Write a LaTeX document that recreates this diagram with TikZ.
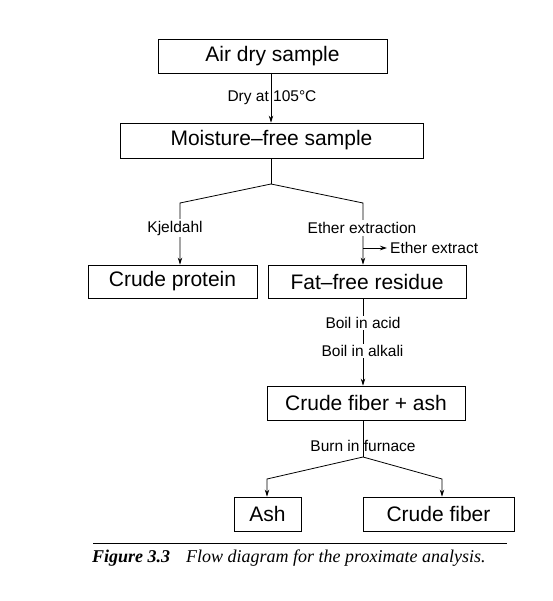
\documentclass[tikz,border=0pt]{standalone}
\usepackage{fontspec}
\setmainfont{Liberation Sans}
\newfontfamily\capfont{Liberation Serif}
\usetikzlibrary{arrows.meta}
\begin{document}
\begin{tikzpicture}[x=1pt,y=-1pt,
  box/.style={draw,line width=0.8pt,inner sep=0pt,font=\fontsize{21}{25}\selectfont},
  lbl/.style={inner sep=1pt,font=\fontsize{15.5}{18}\selectfont},
  lblw/.style={lbl,fill=white,inner sep=2pt},
  conn/.style={line width=0.8pt},
  arr/.style={conn,-{Stealth[length=7pt,width=4.5pt]}}]
\useasboundingbox (0,0) rectangle (552,601);
% boxes
\node[box,minimum width=229pt,minimum height=34pt] (air) at (272.5,56) {Air dry sample};
\node[box,minimum width=303pt,minimum height=35pt] (mf) at (271.5,140.5) {Moisture--free sample};
\node[box,minimum width=169pt,minimum height=33pt] (cp) at (172.5,281.5) {Crude protein};
\node[box,minimum width=198pt,minimum height=33pt] (ff) at (367,281.5) {Fat--free residue};
\node[box,minimum width=198pt,minimum height=34pt] (cfa) at (366,403) {Crude fiber + ash};
\node[box,minimum width=67pt,minimum height=34pt] (ash) at (267.5,514) {Ash};
\node[box,minimum width=151pt,minimum height=34pt] (cf) at (438.5,514) {Crude fiber};
% coordinates
\coordinate (a1) at (271,73);
\coordinate (j1) at (271,184);
\coordinate (l1) at (180,203);
\coordinate (r1) at (363,203);
\coordinate (e1) at (363,248);
\coordinate (e2) at (387,248);
\coordinate (f1) at (363,298);
\coordinate (g1) at (363,420);
\coordinate (j2) at (363,457);
\coordinate (l2) at (267,479);
\coordinate (r2) at (442,479);
% connectors
\draw[arr] (a1) -- (a1 |- mf.north);
\node[lbl] (dry) at (272,98) {Dry at 105\textdegree C};
\draw[conn] (mf.south -| j1) -- (j1);
\draw[arr] (j1) -- (l1) -- (l1 |- cp.north);
\draw[arr] (j1) -- (r1) -- (r1 |- ff.north);
\node[lblw] (kj) at (175,228) {Kjeldahl};
\node[lblw] (ee) at (362,228) {Ether extraction};
\draw[arr] (e1) -- (e2);
\node[lbl,anchor=west] (eex) at (389,248) {Ether extract};
\draw[arr] (f1) -- (f1 |- cfa.north);
\node[lblw,inner sep=1pt] (bac) at (363,323) {Boil in acid};
\node[lblw,inner sep=1pt] (bal) at (362.5,351) {Boil in alkali};
\draw[conn] (g1) -- (j2);
\node[lbl] (burn) at (363,446) {Burn in furnace};
\draw[arr] (j2) -- (l2) -- (l2 |- ash.north);
\draw[arr] (j2) -- (r2) -- (r2 |- cf.north);
% caption
\coordinate (rl) at (93,543);
\coordinate (rr) at (507,543);
\draw[line width=0.8pt] (rl) -- (rr);
\node[anchor=west,inner sep=0pt,font=\capfont\itshape\fontsize{18}{21}\selectfont] (cap) at (92,558) {\textbf{Figure 3.3}\hspace{16pt}Flow diagram for the proximate analysis.};
\end{tikzpicture}
\end{document}
